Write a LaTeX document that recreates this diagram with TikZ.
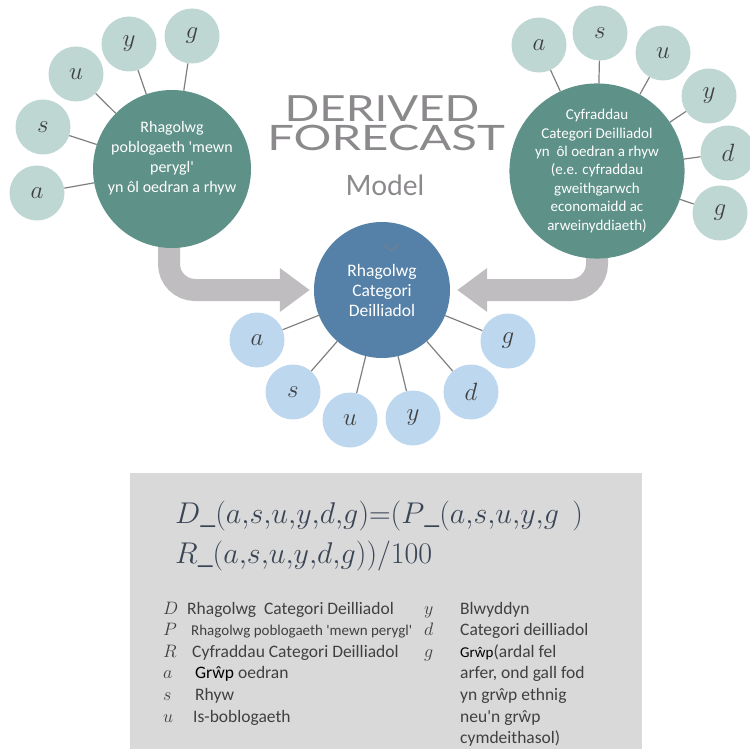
\RequirePackage{fix-cm}
\documentclass[tikz,border=0pt]{standalone}
\usepackage{graphicx}
\usepackage{fontspec}
\setmainfont{Carlito}[Ligatures=TeXOff]
\newfontfamily\titlefont{Lato}
\usetikzlibrary{arrows.meta}
\pgfdeclarelayer{back}
\pgfsetlayers{back,main}
\definecolor{hubteal}{HTML}{5E9188}
\definecolor{leafteal}{HTML}{BED7D3}
\definecolor{steel}{HTML}{5581A8}
\definecolor{leafblue}{HTML}{BDD7EE}
\definecolor{arrowgrey}{HTML}{BFBDC0}
\definecolor{linegrey}{HTML}{7F7F7F}
\definecolor{titlegrey}{HTML}{8C898D}
\definecolor{boxgrey}{HTML}{D9D9D9}
\definecolor{ink}{HTML}{404040}
\definecolor{eqink}{HTML}{3A4556}
\tikzstyle{Flow}=[draw=arrowgrey, line width=22pt, rounded corners=26pt, -{Triangle[length=30pt,width=42pt]}]

\begin{document}
\begin{tikzpicture}[
  x=1pt, y=-1pt,
  Hub/.style={circle, fill=hubteal, text=white, align=center, minimum size=158pt, inner sep=0pt},
  HubText/.style={text=white, align=center, inner sep=0pt, font=\fontsize{16}{20}\selectfont},
  Leaf/.style={circle, fill=leafteal, minimum size=55pt, inner sep=0pt, text=ink, font=\fontsize{25}{25}\selectfont},
  Link/.style={draw=linegrey, line width=1.2pt},
  Title/.style={text=titlegrey, anchor=base, inner sep=0pt},
  Formula/.style={anchor=base west, align=left, inner sep=0pt, text=eqink, font={\fontsize{30}{40}\selectfont\thickmuskip=0mu\thinmuskip=0mu}},
  Sym/.style={anchor=base west, inner sep=0pt, text=ink, font=\fontsize{18}{18}\selectfont},
  Key/.style={anchor=base west, inner sep=0pt, text=ink, font=\fontsize{17.5}{21.6}\selectfont}
]
\useasboundingbox (0,0) rectangle (750,749);

% title
\node[Title, font=\titlefont\fontsize{36}{36}\selectfont] (derived) at (382,122) {\scalebox{1.27}[1]{DERIVED}};
\node[Title, font=\titlefont\fontsize{35}{35}\selectfont] (forecast) at (386,150) {\scalebox{1.35}[1]{FORECAST}};
\node[Title, font=\titlefont\fontsize{28}{28}\selectfont] (model) at (385,195) {Model};

% the three big circles
\node[Hub] (risk) at (172,169) {};
\node[HubText] (risktext) at ([yshift=11pt]risk.center) {Rhagolwg\\poblogaeth 'mewn\\perygl'\\yn ôl oedran a rhyw};
\node[Hub, font=\fontsize{15}{18.5}\selectfont] (rates) at (597,171) {Cyfraddau\\Categori Deilliadol\\yn~ ôl oedran a rhyw\\(e.e. cyfraddau\\gweithgarwch\\economaidd ac\\arweinyddiaeth)};
\node[Hub, fill=steel, minimum size=136pt, font=\fontsize{17.5}{20}\selectfont] (dcf) at (382,290) {Rhagolwg\\Categori\\Deilliadol};
\draw[draw=linegrey!80!steel, line width=1pt] (383,244) -- (391,251) -- (399,244);

\begin{pgfonlayer}{back}
\draw[Flow] ([xshift=-3pt]risk.center) |- ([xshift=-4pt]dcf.west);
\draw[Flow] (rates.center) |- ([xshift=7pt]dcf.east);
\end{pgfonlayer}

% left cluster
\node[Leaf] (ra) at (37,193) {$a$};
\node[Leaf] (rs) at (43,127) {$s$};
\node[Leaf] (ru) at (76,74) {$u$};
\node[Leaf] (ry) at (129,44) {$y$};
\node[Leaf] (rg) at (192,36) {$g$};
\draw[Link] (ra) -- (risk) (rs) -- (risk) (ru) -- (risk) (ry) -- (risk) (rg) -- (risk);

% right cluster
\node[Leaf] (ta) at (539,45) {$a$};
\node[Leaf] (ts) at (600,33) {$s$};
\node[Leaf] (tu) at (663,53) {$u$};
\node[Leaf] (ty) at (709,96) {$y$};
\node[Leaf] (td) at (728,153) {$d$};
\node[Leaf] (tg) at (720,213) {$g$};
\draw[Link] (ta) -- (rates) (ts) -- (rates) (tu) -- (rates) (ty) -- (rates) (td) -- (rates) (tg) -- (rates);

% centre cluster
\node[Leaf, fill=leafblue] (ca) at (257,340) {$a$};
\node[Leaf, fill=leafblue] (cs) at (293,392) {$s$};
\node[Leaf, fill=leafblue] (cu) at (350,420) {$u$};
\node[Leaf, fill=leafblue] (cy) at (413,418) {$y$};
\node[Leaf, fill=leafblue] (cd) at (471,392) {$d$};
\node[Leaf, fill=leafblue] (cg) at (508,341) {$g$};
\draw[Link] (ca) -- (dcf) (cs) -- (dcf) (cu) -- (dcf) (cy) -- (dcf) (cd) -- (dcf) (cg) -- (dcf);

% formula panel
\fill[boxgrey] (130,473) rectangle (642,760);
\node[Formula] (eq) at (175,563) {$D\_(a,s,u,y,d,g)=(P\_(a,s,u,y,g\mskip8mu)$\\$R\_(a,s,u,y,d,g))/100$};

\node[Sym] (sD) at (163,614) {$D$};
\node[Key] (kD) at (187,614) {Rhagolwg~ Categori Deilliadol};
\node[Sym] (sP) at (163,635.6) {$P$};
\node[Key, font=\fontsize{15}{15}\selectfont] (kP) at (191,635.6) {Rhagolwg poblogaeth 'mewn perygl'};
\node[Sym] (sR) at (163,657.2) {$R$};
\node[Key] (kR) at (192,657.2) {Cyfraddau Categori Deilliadol};
\node[Sym] (sa) at (163,678.8) {$a$};
\node[Key] (ka) at (195,678.8) {\textcolor{black}{Grŵp} oedran};
\node[Sym] (ss) at (163,700.4) {$s$};
\node[Key] (ks) at (195,700.4) {Rhyw};
\node[Sym] (su) at (163,722) {$u$};
\node[Key] (ku) at (193,722) {Is-boblogaeth};

\node[Sym] (sy) at (424,614) {$y$};
\node[Key] (ky) at (460,614) {Blwyddyn};
\node[Sym] (sd) at (424,635.6) {$d$};
\node[Key] (kd) at (460,635.6) {Categori deilliadol};
\node[Sym] (sg) at (424,657.2) {$g$};
\node[Key, align=left] (kg) at (460,743.6) {{\fontsize{15}{15}\selectfont\color{black}Grŵp}(ardal fel\\arfer, ond gall fod\\yn grŵp ethnig\\neu'n grŵp\\cymdeithasol)};

\end{tikzpicture}
\end{document}
